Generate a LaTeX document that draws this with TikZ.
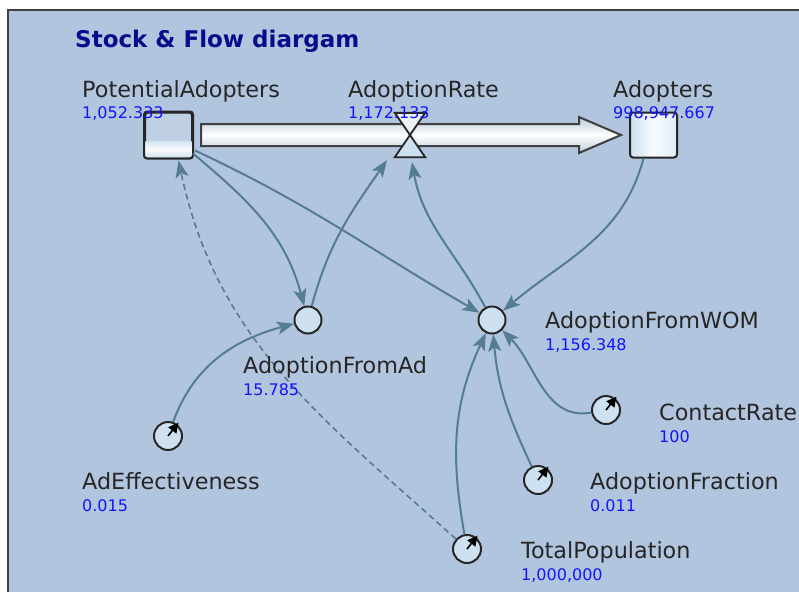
\documentclass[tikz,border=0pt]{standalone}
\usepackage{fontspec}
\setmainfont{DejaVu Sans}
\usetikzlibrary{arrows.meta}
\definecolor{panel}{RGB}{178,197,222}
\definecolor{linkcol}{RGB}{84,124,146}
\definecolor{valblue}{RGB}{20,20,250}
\definecolor{titleblue}{RGB}{10,10,140}
\definecolor{fillblue}{RGB}{206,225,240}
\tikzset{
  stock/.style={draw=black!85, line width=2pt, rounded corners=3pt, minimum width=47pt, minimum height=45pt, inner sep=0pt},
  aux/.style={circle, draw=black!85, line width=2pt, fill=fillblue, minimum size=27pt, inner sep=0pt},
  const/.style={aux, minimum size=28pt},
  wire/.style={draw=linkcol, line width=2pt, -{Stealth[length=17pt,width=13pt,inset=4pt]}},
  lbl/.style={anchor=base west, font=\fontsize{22.3}{22.3}\selectfont, text=black!85, inner sep=0pt},
  val/.style={anchor=base west, font=\fontsize{16}{16}\selectfont, text=valblue, inner sep=0pt},
}
\begin{document}
\begin{tikzpicture}[x=1pt,y=1pt]
\useasboundingbox (0,0) rectangle (799,-592);
\fill[white] (0,0) rectangle (799,-592);
\fill[panel] (8,-10) rectangle (799,-592);
\draw[line width=2pt, black!75] (8,-592) -- (8,-10) -- (799,-10);
\node[anchor=base west, inner sep=0pt, font=\fontsize{23}{23}\selectfont\bfseries, text=titleblue] (title) at (75,-47) {Stock \& Flow diargam};

% stocks, flow and auxiliaries
\node[stock, fill=panel!85!white] (potential) at (168.5,-135) {};
\shade[top color=fillblue, bottom color=fillblue, middle color=white!90!fillblue, rounded corners=2pt] ([shift={(1,1)}]potential.south west) rectangle ([shift={(-1,18)}]potential.south east);
\draw[black!85, line width=2pt, rounded corners=3pt] (potential.south west) rectangle (potential.north east);
\node[stock, left color=fillblue, right color=fillblue!60!white, middle color=white!85!fillblue] (adopters) at (653.5,-135) {};
\node[inner sep=0pt, minimum width=30pt, minimum height=44pt] (rate) at (410,-135) {};

\path[draw=black!75, line width=2pt, top color=fillblue!90!black, bottom color=fillblue!90!black, middle color=white]
  ([shift={(8,11)}]potential.east) -- ([shift={(-50,11)}]adopters.west) -- ([shift={(-50,18)}]adopters.west)
  -- ([shift={(-8,0)}]adopters.west) -- ([shift={(-50,-18)}]adopters.west) -- ([shift={(-50,-11)}]adopters.west)
  -- ([shift={(8,-11)}]potential.east) -- cycle;
\draw[black!85, line width=1.8pt, fill=white!60!fillblue] (rate.north west) -- (rate.north east) -- (rate.center) -- cycle;
\draw[black!85, line width=1.8pt, fill=fillblue] (rate.south west) -- (rate.south east) -- (rate.center) -- cycle;
\draw[black!85, line width=2.2pt] ([xshift=-1pt]rate.north west) -- ([xshift=2pt]rate.north east);

\node[aux] (fromad) at (308,-320) {};
\node[aux] (fromwom) at (492,-320) {};
\node[const] (adeff) at (168,-436) {};
\node[const] (contact) at (606,-410) {};
\node[const] (fraction) at (538,-480) {};
\node[const] (totalpop) at (467,-549) {};
\foreach \c in {adeff,contact,fraction,totalpop}
  \draw[black, line width=1.6pt, -{Triangle[length=10pt,width=10pt]}] (\c.center) -- ++(52:17);

% links
\draw[wire] ([shift={(0,5)}]potential.south east) to[out=-40, in=105] (fromad);
\draw[wire] ([shift={(2,8)}]potential.south east) to[out=-25, in=150] (fromwom);
\draw[wire] (fromad) to[out=75, in=-125] ([shift={(-23,-3)}]rate.south);
\draw[wire] (fromwom) to[out=118, in=-80] ([shift={(2,-5)}]rate.south);
\draw[wire] ([xshift=-10pt]adopters.south) to[out=-105, in=40] (fromwom);
\draw[wire] (adeff) to[out=70, in=195] (fromad);
\draw[wire, line width=1.6pt, dash pattern=on 6pt off 4pt] (totalpop) to[out=138, in=-78] ([shift={(10,-2)}]potential.south);
\draw[wire] (totalpop) to[out=100, in=-115] (fromwom);
\draw[wire] (fraction) to[out=115, in=-85] (fromwom);
\draw[wire] (contact) to[out=190, in=-45] (fromwom);

% names and values
\node[lbl] (potentialname) at (82,-97) {PotentialAdopters};
\node[val] (potentialval) at (82,-118) {1,052.333};
\node[lbl] (ratename) at (348,-97) {AdoptionRate};
\node[val] (rateval) at (348,-118) {1,172.133};
\node[lbl] (adoptersname) at (613,-97) {Adopters};
\node[val] (adoptersval) at (613,-118) {998,947.667};
\node[lbl] (fromadname) at (243,-373) {AdoptionFromAd};
\node[val] (fromadval) at (243,-395) {15.785};
\node[lbl] (fromwomname) at (545,-328) {AdoptionFromWOM};
\node[val] (fromwomval) at (545,-350) {1,156.348};
\node[lbl] (adeffname) at (82,-489) {AdEffectiveness};
\node[val] (adeffval) at (82,-511) {0.015};
\node[lbl] (contactname) at (659,-420) {ContactRate};
\node[val] (contactval) at (659,-442) {100};
\node[lbl] (fractionname) at (590,-489) {AdoptionFraction};
\node[val] (fractionval) at (590,-511) {0.011};
\node[lbl] (totalpopname) at (521,-558) {TotalPopulation};
\node[val] (totalpopval) at (521,-580) {1,000,000};
\end{tikzpicture}
\end{document}
